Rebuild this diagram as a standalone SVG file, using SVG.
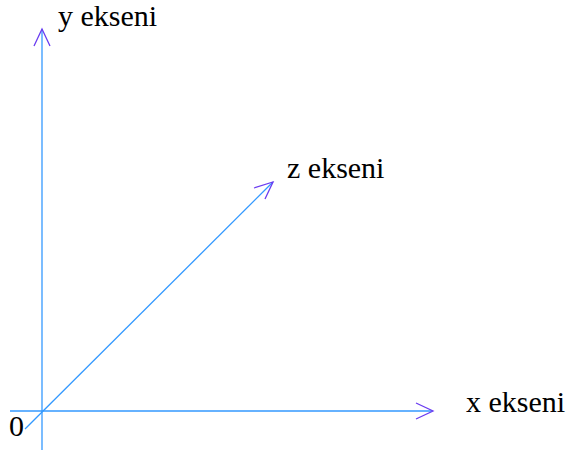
<svg xmlns="http://www.w3.org/2000/svg" width="568" height="453" viewBox="0 0 568 453">
<style>
.ax{stroke:#3399ff;stroke-width:1.3;fill:none}
.hd{stroke:#6a3cf0;stroke-width:1.3;fill:none}
.t{font-family:"Liberation Serif","Times New Roman",serif;font-size:30px;fill:#000}
</style>
<rect width="568" height="453" fill="#fff"/>
<g id="connectors">
<line class="ax" x1="42" y1="450" x2="42" y2="29"/>
<polyline class="hd" points="34,46 42,29 50,46"/>
<line class="ax" x1="10" y1="411" x2="432" y2="411"/>
<polyline class="hd" points="416,403 433,411 416,419"/>
<line class="ax" x1="25" y1="429" x2="273" y2="182"/>
<polyline class="hd" points="254,188 273,182 265,199"/>
</g>
<g id="y-label"><text class="t" x="58" y="26">y ekseni</text></g>
<g id="z-label"><text class="t" x="287" y="178">z ekseni</text></g>
<g id="x-label"><text class="t" x="466" y="412">x ekseni</text></g>
<g id="origin"><text class="t" x="9" y="436">0</text></g>
</svg>
